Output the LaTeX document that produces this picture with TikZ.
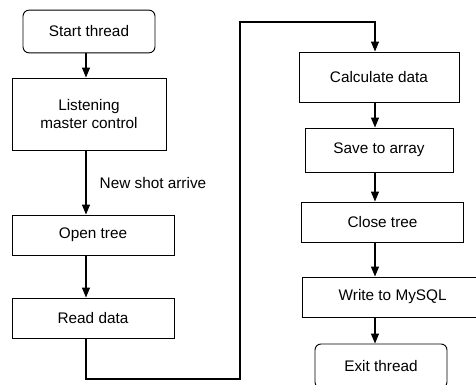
\documentclass[tikz,border=0pt]{standalone}
\usepackage{fontspec}
\setmainfont{Liberation Sans}
\usetikzlibrary{arrows.meta}
\tikzset{
	box/.style={draw, line width=0.7pt, inner sep=0pt, align=center, font=\fontsize{11.5}{13}\selectfont},
	term/.style={box, rounded corners=4.5pt},
	flow/.style={line width=0.9pt, -{Triangle[width=6pt,length=7.5pt]}}
}

\begin{document}
\begin{tikzpicture}[x=0.75pt, y=-0.75pt]
			%%%%% START %%%%%
			
			\useasboundingbox (0, 0) rectangle (476, 385);
			\clip (0, 0) rectangle (476, 385);
			
			% left column
			\node[term, minimum width=99pt, minimum height=32pt] (start) at (89, 31.5) {Start thread};
			\node[box, minimum width=115.5pt, minimum height=54pt] (listen) at (89, 114) {Listening\\master control};
			\node[box, minimum width=121.5pt, minimum height=30pt] (open) at (93, 235) {Open tree};
			\node[box, minimum width=121.5pt, minimum height=30pt] (read) at (93, 318) {Read data};
			
			% right column
			\node[box, minimum width=120pt, minimum height=37.5pt] (calc) at (379, 77) {Calculate data};
			\node[box, minimum width=111pt, minimum height=33pt] (save) at (379, 150) {Save to array};
			\node[box, minimum width=122pt, minimum height=30pt] (close) at (382.5, 222) {Close tree};
			\node[box, minimum width=136pt, minimum height=30pt] (write) at (392.7, 297) {Write to MySQL};
			\node[term, minimum width=99pt, minimum height=33pt] (exit) at (381, 366) {Exit thread};
			
			\coordinate (colL) at (86, 0);
			\coordinate (colR) at (375, 0);
			\coordinate (low) at (240, 379);
			\coordinate (high) at (240, 22);
			
			\draw[flow] (start.south -| colL) -- (listen.north -| colL);
			\draw[flow] (listen.south -| colL) -- (open.north -| colL);
			\node[anchor=west, font=\fontsize{11.5}{13}\selectfont] (shot) at (95, 183) {New shot arrive};
			\draw[flow] (open.south -| colL) -- (read.north -| colL);
			
			\draw[flow] (read.south -| colL) |- (low) -- (high) -| (calc.north -| colR);
			
			\draw[flow] (calc.south -| colR) -- (save.north -| colR);
			\draw[flow] (save.south -| colR) -- (close.north -| colR);
			\draw[flow] (close.south -| colR) -- (write.north -| colR);
			\draw[flow] (write.south -| colR) -- (exit.north -| colR);
			
			%%%%% END %%%%%
\end{tikzpicture}
\end{document}
